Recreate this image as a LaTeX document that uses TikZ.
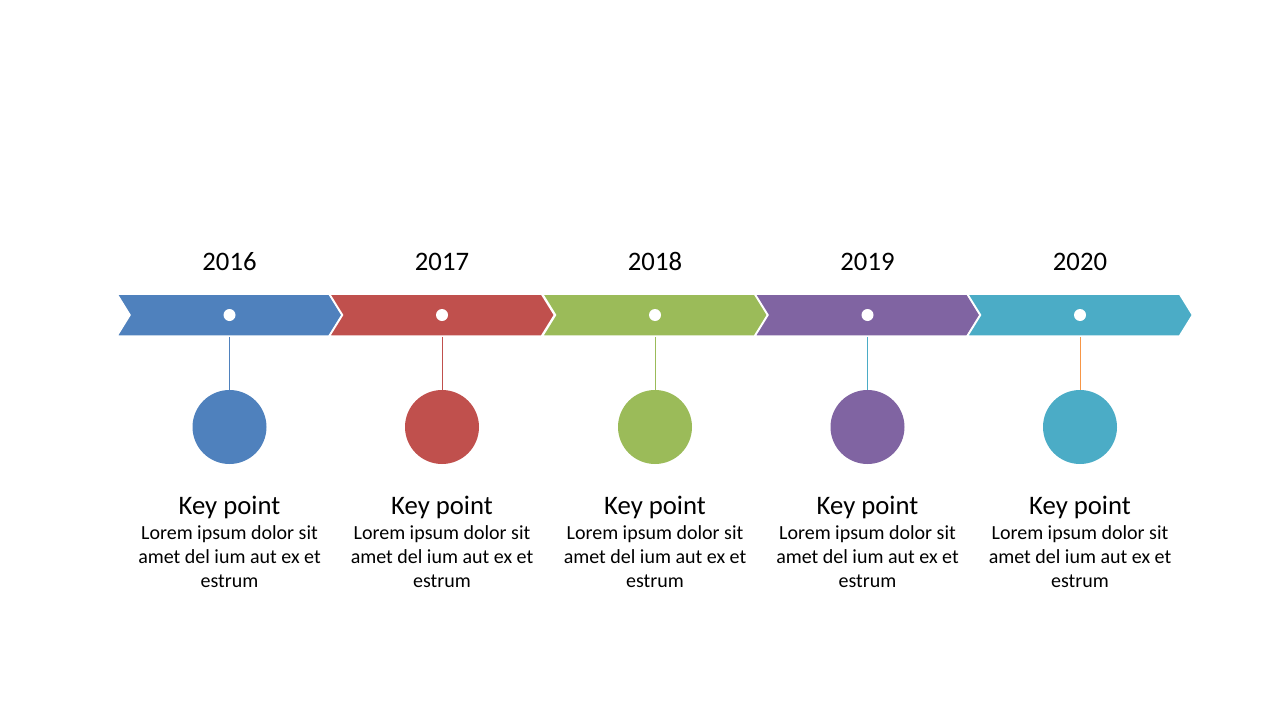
\documentclass[tikz,border=0pt]{standalone}
\usepackage{fontspec}
\setmainfont{Carlito}
\usetikzlibrary{positioning}
\usetikzlibrary{shapes.symbols}

\definecolor{blueA}{HTML}{4F81BD}
\definecolor{redA}{HTML}{C0504D}
\definecolor{greenA}{HTML}{9BBB59}
\definecolor{purpleA}{HTML}{8064A2}
\definecolor{aquaA}{HTML}{4BACC6}
\definecolor{orangeA}{HTML}{F79646}

\begin{document}
\begin{tikzpicture}[x=1pt,y=-1pt]

		\tikzset{chevron/.style = {shape=signal,signal from=west,signal to=east,signal pointer angle=116.5,draw=white,line width=1.5pt,minimum width=225pt,minimum height=42pt,inner sep=0pt}}
		\tikzset{hole/.style = {shape=circle,fill=white,minimum size=12pt,inner sep=0pt}}
		\tikzset{ball/.style = {shape=circle,minimum size=74pt,inner sep=0pt}}
		\tikzset{stem/.style = {line width=1pt}}
		\tikzset{year/.style = {anchor=base,inner sep=0pt,font=\fontsize{26.7}{32}\selectfont}}
		\tikzset{keypt/.style = {anchor=base,inner sep=0pt,font=\fontsize{26.7}{32}\selectfont}}
		\tikzset{lorem/.style = {anchor=base,inner sep=0pt,align=center,font=\fontsize{20}{24}\selectfont}}
		
		\useasboundingbox (0,0) rectangle (1280,720);
		
		% chevrons
		\node[chevron, fill = blueA] (y1) at (229.5,315) {};
		\node[chevron, fill = redA] (y2) at (442,315) {};
		\node[chevron, fill = greenA] (y3) at (655,315) {};
		\node[chevron, fill = purpleA] (y4) at (867.5,315) {};
		\node[chevron, fill = aquaA] (y5) at (1080,315) {};
		
		\node[hole] (h1) at (y1) {};
		\node[hole] (h2) at (y2) {};
		\node[hole] (h3) at (y3) {};
		\node[hole] (h4) at (y4) {};
		\node[hole] (h5) at (y5) {};
		
		% years
		\node[year] (t1) at (229.5,270) {2016};
		\node[year] (t2) at (442,270) {2017};
		\node[year] (t3) at (655,270) {2018};
		\node[year] (t4) at (867.5,270) {2019};
		\node[year] (t5) at (1080,270) {2020};
		
		% circles
		\node[ball, fill = blueA] (c1) at (229.5,427) {};
		\node[ball, fill = redA] (c2) at (442,427) {};
		\node[ball, fill = greenA] (c3) at (655,427) {};
		\node[ball, fill = purpleA] (c4) at (867.5,427) {};
		\node[ball, fill = aquaA] (c5) at (1080,427) {};
		
		%stems
		\draw[stem, blueA] (y1.south) -- (c1);
		\draw[stem, redA] (y2.south) -- (c2);
		\draw[stem, greenA] (y3.south) -- (c3);
		\draw[stem, aquaA] (y4.south) -- (c4);
		\draw[stem, orangeA] (y5.south) -- (c5);
		
		% texts
		\node[keypt] (k1) at (229.5,514) {Key point};
		\node[keypt] (k2) at (442,514) {Key point};
		\node[keypt] (k3) at (655,514) {Key point};
		\node[keypt] (k4) at (867.5,514) {Key point};
		\node[keypt] (k5) at (1080,514) {Key point};
		
		\node[lorem] (l1) at (229.5,587) {Lorem ipsum dolor sit\\amet del ium aut ex et\\estrum};
		\node[lorem] (l2) at (442,587) {Lorem ipsum dolor sit\\amet del ium aut ex et\\estrum};
		\node[lorem] (l3) at (655,587) {Lorem ipsum dolor sit\\amet del ium aut ex et\\estrum};
		\node[lorem] (l4) at (867.5,587) {Lorem ipsum dolor sit\\amet del ium aut ex et\\estrum};
		\node[lorem] (l5) at (1080,587) {Lorem ipsum dolor sit\\amet del ium aut ex et\\estrum};
		
\end{tikzpicture}
\end{document}
